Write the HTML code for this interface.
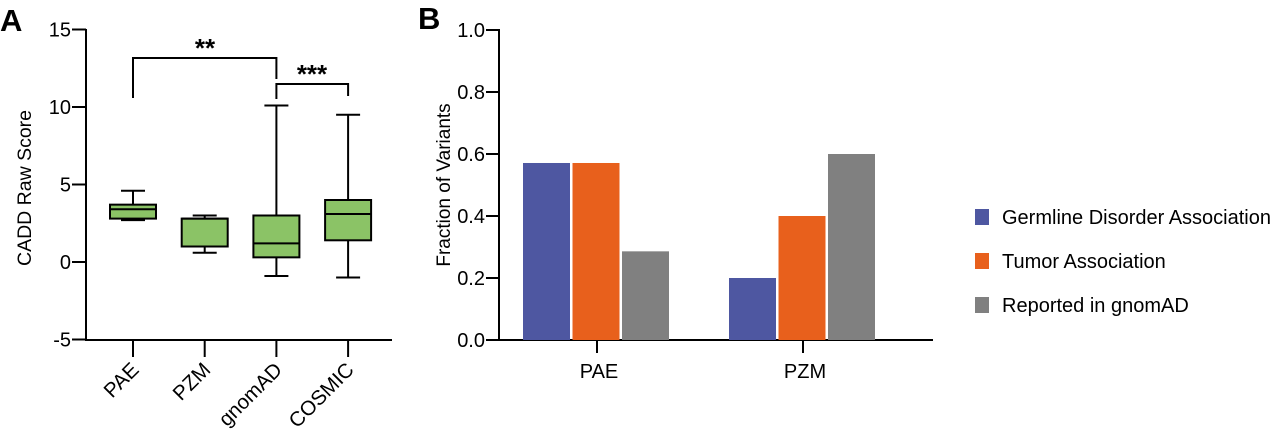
<!DOCTYPE html>
<html><head><meta charset="utf-8"><style>
body{margin:0;background:#fff;}
svg{display:block;font-family:"Liberation Sans",Arial,sans-serif;}
</style></head><body>
<svg id="chart" width="1280" height="432" viewBox="0 0 1280 432"></svg>
<script>
// Panel A data
const catsA = ["PAE","PZM","gnomAD","COSMIC"];
const minsA = [2.7, 0.6, -0.9, -1.0];
const q1A = [2.8, 1.0, 0.3, 1.4];
const medA = [3.4, 2.8, 1.2, 3.1];
const q3A = [3.7, 2.8, 3.0, 4.0];
const maxA = [4.6, 3.0, 10.1, 9.5];
const ticksA = [-5, 0, 5, 10, 15];
// Panel B data
const catsB = ["PAE","PZM"];
const seriesNames = ["Germline Disorder Association","Tumor Association","Reported in gnomAD"];
const germline = [0.571, 0.2];
const tumor = [0.571, 0.4];
const gnomad = [0.286, 0.6];
const ticksB = [0.0, 0.2, 0.4, 0.6, 0.8, 1.0];

const NS="http://www.w3.org/2000/svg";
const svg=document.getElementById('chart');
function mk(tag,attrs,parent){const e=document.createElementNS(NS,tag);for(const k in attrs)e.setAttribute(k,attrs[k]);(parent||svg).appendChild(e);return e;}

// Panel A
const yA=v=>262-(v*15.5);
const xA=i=>133+i*71.7;
let t=mk('text',{x:0,y:31,'font-size':31,'font-weight':'bold'});t.textContent='A';


let g=mk('g',{stroke:'#000','stroke-width':2,fill:'none'});


mk('line',{x1:86,y1:29,x2:86,y2:341},g);
mk('line',{x1:86,y1:340,x2:392,y2:340},g);
ticksA.forEach(v=>{
  mk('line',{x1:72,y1:yA(v),x2:86,y2:yA(v)},g);
  const tt=mk('text',{x:71,y:yA(v)+7,'font-size':20,'text-anchor':'end',fill:'#000'});tt.textContent=v;
  
  
});
const yl=mk('text',{x:0,y:0,'font-size':19.5,'text-anchor':'middle',transform:'translate(31,188) rotate(-90)'});yl.textContent='CADD Raw Score';


catsA.forEach((c,i)=>{
  const x=xA(i);
  mk('line',{x1:x,y1:340,x2:x,y2:357},g);
  const b=mk('g',{stroke:'#000','stroke-width':2});
  
  
  mk('line',{x1:x,y1:yA(maxA[i]),x2:x,y2:yA(minsA[i])},b);
  mk('line',{x1:x-12,y1:yA(maxA[i]),x2:x+12,y2:yA(maxA[i])},b);
  mk('line',{x1:x-12,y1:yA(minsA[i]),x2:x+12,y2:yA(minsA[i])},b);
  mk('rect',{x:x-23,y:yA(q3A[i]),width:46,height:Math.max(1,yA(q1A[i])-yA(q3A[i])),fill:'#8bc366'},b);
  mk('line',{x1:x-23,y1:yA(medA[i]),x2:x+23,y2:yA(medA[i])},b);
  const lt=mk('text',{x:0,y:0,'font-size':20.5,'text-anchor':'end',transform:`translate(${x+7},${371}) rotate(-45)`});lt.textContent=c;
  
  
});
const br=mk('g',{stroke:'#000','stroke-width':2,fill:'none'});


mk('polyline',{points:`${xA(0)},98 ${xA(0)},58 ${xA(2)},58 ${xA(2)},79`},br);
mk('polyline',{points:`${xA(2)},99 ${xA(2)},84 ${xA(3)},84 ${xA(3)},96`},br);
t=mk('text',{x:205,y:57,'font-size':26,'font-weight':'bold','text-anchor':'middle'});t.textContent='**';


t=mk('text',{x:312,y:83,'font-size':26,'font-weight':'bold','text-anchor':'middle'});t.textContent='***';



// Panel B
const yB=v=>340-v*310;
const xB=i=>597+i*206;
t=mk('text',{x:418,y:29,'font-size':31,'font-weight':'bold'});t.textContent='B';


const gb=mk('g',{stroke:'#000','stroke-width':2,fill:'none'});


mk('line',{x1:499,y1:29,x2:499,y2:341},gb);
ticksB.forEach(v=>{
  mk('line',{x1:486,y1:yB(v),x2:499,y2:yB(v)},gb);
  const tt=mk('text',{x:485,y:yB(v)+7,'font-size':20,'text-anchor':'end',fill:'#000'});tt.textContent=v.toFixed(1);
  
  
});
const yl2=mk('text',{x:0,y:0,'font-size':19,'text-anchor':'middle',transform:'translate(450,185) rotate(-90)'});yl2.textContent='Fraction of Variants';


const colors=['#4e57a1','#e8601c','#808080'];
const series=[germline,tumor,gnomad];
catsB.forEach((c,i)=>{
  const cx=xB(i);
  series.forEach((s,j)=>{
    const x=cx-74+j*49.5;
    const r=mk('rect',{x:x,y:yB(s[i]),width:47,height:340-yB(s[i]),fill:colors[j]});
    
    
  });
  mk('line',{x1:cx,y1:340,x2:cx,y2:353},gb);
  const lt=mk('text',{x:cx+2,y:378,'font-size':20,'text-anchor':'middle'});lt.textContent=c;
  
  
});
mk('line',{x1:499,y1:340,x2:933,y2:340},gb);
seriesNames.forEach((n,j)=>{
  const y=217+j*44;
  const r=mk('rect',{x:975,y:y-8,width:14,height:16,fill:colors[j]});
  
  
  const lt=mk('text',{x:1002,y:y+7,'font-size':20});lt.textContent=n;
  
  
});
</script>
</body></html>
